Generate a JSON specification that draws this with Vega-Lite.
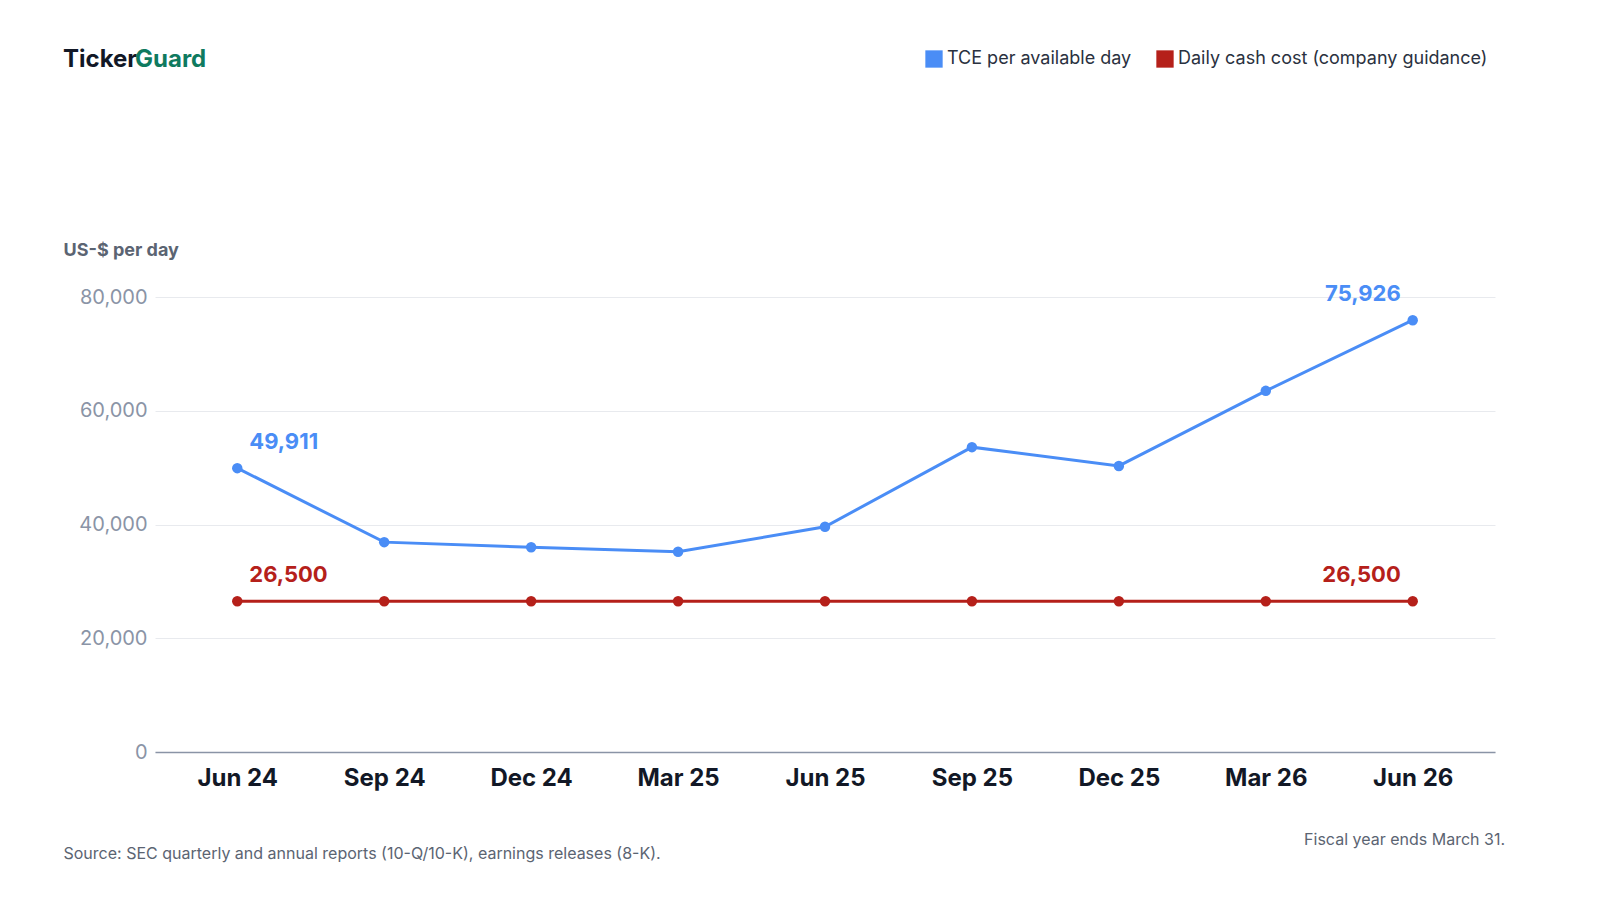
{
"$schema":"https://vega.github.io/schema/vega-lite/v6.json",
"width":1340,"height":455,
"autosize":{"type":"none"},
"padding":{"left":155,"top":297,"right":105,"bottom":148},
"background":"white",
"config":{"font":"Inter","view":{"stroke":null}},
"title":{"text":"What one Dorian ship earns per day","subtitle":"TCE rate per available day, quarter by quarter — the number everything hangs on","anchor":"start","frame":"group","dx":-92,"offset":72,"fontSize":40,"fontWeight":"bold","color":"#121826","subtitleFontSize":20,"subtitleColor":"#5b6472","subtitlePadding":16},
"data":{"values":[
{"q":"Jun 24","s":"TCE per available day","v":49911,"label":"49,911","pos":"start"},
{"q":"Sep 24","s":"TCE per available day","v":36900},
{"q":"Dec 24","s":"TCE per available day","v":36000},
{"q":"Mar 25","s":"TCE per available day","v":35200},
{"q":"Jun 25","s":"TCE per available day","v":39600},
{"q":"Sep 25","s":"TCE per available day","v":53600},
{"q":"Dec 25","s":"TCE per available day","v":50300},
{"q":"Mar 26","s":"TCE per available day","v":63500},
{"q":"Jun 26","s":"TCE per available day","v":75926,"label":"75,926","pos":"end"},
{"q":"Jun 24","s":"Daily cash cost (company guidance)","v":26500,"label":"26,500","pos":"start"},
{"q":"Sep 24","s":"Daily cash cost (company guidance)","v":26500},
{"q":"Dec 24","s":"Daily cash cost (company guidance)","v":26500},
{"q":"Mar 25","s":"Daily cash cost (company guidance)","v":26500},
{"q":"Jun 25","s":"Daily cash cost (company guidance)","v":26500},
{"q":"Sep 25","s":"Daily cash cost (company guidance)","v":26500},
{"q":"Dec 25","s":"Daily cash cost (company guidance)","v":26500},
{"q":"Mar 26","s":"Daily cash cost (company guidance)","v":26500},
{"q":"Jun 26","s":"Daily cash cost (company guidance)","v":26500,"label":"26,500","pos":"end"}
]},
"encoding":{
"x":{"field":"q","type":"ordinal","sort":null,"scale":{"type":"point","padding":0.56},
 "axis":{"labelAngle":0,"labelFontSize":24,"labelFontWeight":"bold","labelColor":"#121826","labelPadding":14,"ticks":false,"domainColor":"#8a94a6","domainWidth":1.5,"title":"Source: SEC quarterly and annual reports (10-Q/10-K), earnings releases (8-K).","titleAnchor":"start","titleAlign":"left","titleX":-92,"titleY":93,"titleFontSize":16,"titleFontWeight":"normal","titleColor":"#5b6472"}},
"y":{"field":"v","type":"quantitative","scale":{"domain":[0,80000]},
 "axis":{"values":[0,20000,40000,60000,80000],"labelExpr":"format(datum.value, ',')","labelFontSize":20,"labelColor":"#8a94a6","labelPadding":8,"ticks":false,"domain":false,"gridColor":"#e8eaee","title":"US-$ per day","titleAngle":0,"titleAlign":"left","titleAnchor":"end","titleX":-92,"titleY":-38,"titleFontSize":18,"titleFontWeight":"bold","titleColor":"#5b6472"}},
"color":{"field":"s","type":"nominal","sort":["TCE per available day","Daily cash cost (company guidance)"],
 "scale":{"domain":["TCE per available day","Daily cash cost (company guidance)"],"range":["#4a8df6","#b5201a"]},
 "legend":{"orient":"none","legendX":770,"legendY":-247,"direction":"horizontal","title":null,"symbolType":"square","symbolSize":300,"symbolStrokeWidth":0,"labelFontSize":18,"labelColor":"#2a3140","labelLimit":400,"columnPadding":24}}
},
"layer":[
{"mark":{"type":"line","strokeWidth":3}},
{"mark":{"type":"circle","size":110,"opacity":1}},
{"transform":[{"filter":"datum.pos=='start'"}],"mark":{"type":"text","align":"left","dx":12,"dy":-26,"fontSize":22,"fontWeight":"bold"},"encoding":{"text":{"field":"label"}}},
{"transform":[{"filter":"datum.pos=='end'"}],"mark":{"type":"text","align":"right","dx":-12,"dy":-26,"fontSize":22,"fontWeight":"bold"},"encoding":{"text":{"field":"label"}}},
{"data":{"values":[{"t":"Ticker"}]},"mark":{"type":"text","align":"left","baseline":"middle","x":-92,"y":-237,"fontSize":24,"fontWeight":"bold","color":"#121826"},"encoding":{"text":{"field":"t"},"x":null,"y":null,"color":null}},
{"data":{"values":[{"t":"Guard"}]},"mark":{"type":"text","align":"left","baseline":"middle","x":-20,"y":-237,"fontSize":24,"fontWeight":"bold","color":"#0f7a5f"},"encoding":{"text":{"field":"t"},"x":null,"y":null,"color":null}},
{"data":{"values":[{"t":"Fiscal year ends March 31."}]},"mark":{"type":"text","align":"right","baseline":"middle","x":1350,"y":543,"fontSize":16,"color":"#5b6472"},"encoding":{"text":{"field":"t"},"x":null,"y":null,"color":null}}
]
}
